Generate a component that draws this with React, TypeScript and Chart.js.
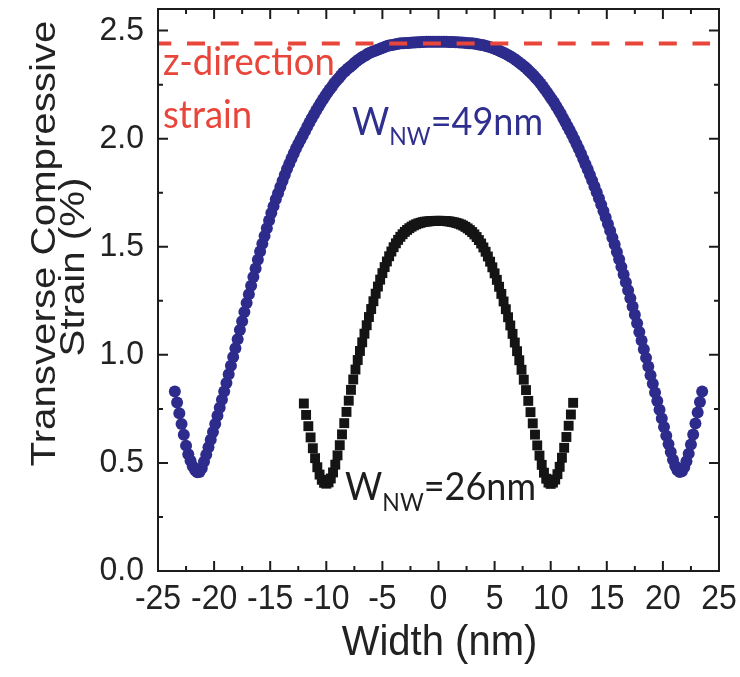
import { useEffect, useRef } from "react";
import { Chart, registerables } from "chart.js";

Chart.register(...registerables);

// Axis ranges and ticks
const X_MIN = -25;
const X_MAX = 25;
const Y_MIN = 0;
const Y_MAX = 2.6;
const X_TICKS = [-25, -20, -15, -10, -5, 0, 5, 10, 15, 20, 25];
const X_MINOR = [-22.5, -17.5, -12.5, -7.5, -2.5, 2.5, 7.5, 12.5, 17.5, 22.5];
const Y_TICKS = [0, 0.5, 1, 1.5, 2, 2.5];
const Y_TICK_LABELS = ["0.0", "0.5", "1.0", "1.5", "2.0", "2.5"];
const Y_MINOR = [0.25, 0.75, 1.25, 1.75, 2.25];

// Sampling grid across the wire width (nm)
const STEP = 0.2;

// W_NW = 49 nm: transverse strain (%), x from -23.5 nm to 23.5 nm
const W49_START = -23.5;
const W49_STRAIN = [
  0.83, 0.78, 0.73, 0.68, 0.63, 0.58, 0.54, 0.51, 0.485, 0.467,
  0.457, 0.458, 0.475, 0.505, 0.538, 0.572, 0.607, 0.643, 0.68, 0.718,
  0.755, 0.792, 0.83, 0.87, 0.91, 0.95, 0.99, 1.03, 1.072, 1.115,
  1.155, 1.198, 1.24, 1.28, 1.32, 1.36, 1.40, 1.44, 1.478, 1.514,
  1.55, 1.586, 1.622, 1.656, 1.688, 1.72, 1.748, 1.776, 1.804, 1.832,
  1.86, 1.884, 1.908, 1.932, 1.955, 1.975, 1.995, 2.015, 2.035, 2.055,
  2.075, 2.095, 2.112, 2.13, 2.148, 2.165, 2.181, 2.197, 2.213, 2.228,
  2.24, 2.256, 2.268, 2.28, 2.292, 2.305, 2.313, 2.324, 2.332, 2.34,
  2.35, 2.358, 2.366, 2.373, 2.38, 2.385, 2.393, 2.398, 2.402, 2.406,
  2.41, 2.414, 2.418, 2.422, 2.426, 2.43, 2.432, 2.434, 2.436, 2.438,
  2.44, 2.441, 2.442, 2.443, 2.443, 2.444, 2.445, 2.445, 2.446, 2.446,
  2.447, 2.447, 2.448, 2.448, 2.448, 2.448, 2.448, 2.448,
  2.448, 2.448, 2.448, 2.448, 2.447, 2.447, 2.447, 2.446, 2.446, 2.445,
  2.445, 2.444, 2.443, 2.442, 2.441, 2.44, 2.439, 2.437, 2.435, 2.433,
  2.431, 2.428, 2.425, 2.422, 2.418, 2.414, 2.41, 2.405, 2.4, 2.395,
  2.39, 2.384, 2.378, 2.371, 2.364, 2.356, 2.348, 2.34, 2.332, 2.322,
  2.312, 2.302, 2.291, 2.28, 2.268, 2.255, 2.241, 2.227, 2.213, 2.198,
  2.183, 2.167, 2.15, 2.133, 2.115, 2.096, 2.077, 2.058, 2.038, 2.018,
  1.997, 1.975, 1.953, 1.93, 1.906, 1.882, 1.857, 1.832, 1.806, 1.779,
  1.752, 1.724, 1.695, 1.666, 1.636, 1.605, 1.574, 1.542, 1.51, 1.476,
  1.442, 1.407, 1.372, 1.336, 1.299, 1.262, 1.224, 1.185, 1.146, 1.106,
  1.066, 1.026, 0.986, 0.946, 0.906, 0.866, 0.826, 0.786, 0.746, 0.706,
  0.666, 0.626, 0.587, 0.55, 0.515, 0.486, 0.466, 0.458, 0.462, 0.48,
  0.508, 0.543, 0.585, 0.632, 0.682, 0.733, 0.782, 0.83,
];

// W_NW = 26 nm: transverse strain (%), x from -12 nm to 12 nm
const W26_START = -12;
const W26_STRAIN = [
  0.775, 0.722, 0.67, 0.618, 0.568, 0.522, 0.48, 0.446, 0.422, 0.408,
  0.404, 0.41, 0.428, 0.456, 0.492, 0.535, 0.582, 0.632, 0.684, 0.736,
  0.788, 0.838, 0.886, 0.932, 0.976, 1.018, 1.058, 1.098, 1.137, 1.175,
  1.212, 1.248, 1.283, 1.316, 1.348, 1.378, 1.406, 1.432, 1.456, 1.478,
  1.498, 1.516, 1.532, 1.546, 1.558, 1.569, 1.578, 1.586, 1.593, 1.599,
  1.604, 1.608, 1.611, 1.614, 1.616, 1.617, 1.618, 1.619, 1.619, 1.62,
  1.62,
  1.62, 1.619, 1.619, 1.618, 1.617, 1.615, 1.613, 1.61, 1.607, 1.603,
  1.598, 1.592, 1.585, 1.577, 1.568, 1.557, 1.545, 1.531, 1.515, 1.497,
  1.477, 1.455, 1.431, 1.405, 1.377, 1.347, 1.315, 1.282, 1.247, 1.211,
  1.174, 1.136, 1.097, 1.057, 1.017, 0.975, 0.931, 0.885, 0.837, 0.787,
  0.735, 0.683, 0.631, 0.581, 0.534, 0.491, 0.455, 0.427, 0.409, 0.403,
  0.409, 0.423, 0.448, 0.482, 0.524, 0.57, 0.62, 0.672, 0.724, 0.778,
];

// z-direction strain reference level (%)
const Z_STRAIN = 2.44;
const Z_LINE_FROM = -25;
const Z_LINE_TO = 24.2;

const BLUE = "#2D2C8C";
const BLACK = "#141414";
const RED = "#E8463A";
const AXIS = "#1c1c1c";
const TEXT_FONT = 'Lato, "Open Sans", sans-serif';
const AXIS_FONT = '"Liberation Sans", Arial, sans-serif';

const toPoints = (start: number, values: number[]) =>
  values.map((y, i) => ({ x: Math.round((start + i * STEP) * 100) / 100, y }));

function drawText(
  ctx: CanvasRenderingContext2D,
  text: string,
  x: number,
  y: number,
  font: string,
  color: string,
  align: CanvasTextAlign,
  baseline: CanvasTextBaseline,
  sy: number
) {
  ctx.save();
  ctx.translate(x, y);
  ctx.scale(1, sy);
  ctx.font = font;
  ctx.fillStyle = color;
  ctx.textAlign = align;
  ctx.textBaseline = baseline;
  ctx.fillText(text, 0, 0);
  ctx.restore();
}

function drawSubLabel(
  ctx: CanvasRenderingContext2D,
  x: number,
  y: number,
  head: string,
  sub: string,
  tail: string,
  size: number,
  subSize: number,
  drop: number,
  color: string
) {
  const sy = 1.1;
  ctx.save();
  ctx.font = `${size}px ${TEXT_FONT}`;
  const wHead = ctx.measureText(head).width;
  ctx.font = `${subSize}px ${TEXT_FONT}`;
  const wSub = ctx.measureText(sub).width;
  ctx.restore();
  drawText(ctx, head, x, y, `${size}px ${TEXT_FONT}`, color, "left", "alphabetic", sy);
  drawText(ctx, sub, x + wHead, y + drop, `${subSize}px ${TEXT_FONT}`, color, "left", "alphabetic", sy);
  drawText(ctx, tail, x + wHead + wSub, y, `${size}px ${TEXT_FONT}`, color, "left", "alphabetic", sy);
}

function drawVerticalTitle(ctx: CanvasRenderingContext2D, text: string, baselineX: number, centerY: number) {
  ctx.save();
  ctx.fillStyle = "#222";
  ctx.font = `35px ${AXIS_FONT}`;
  ctx.textAlign = "center";
  ctx.textBaseline = "alphabetic";
  ctx.translate(baselineX, centerY);
  ctx.rotate(-Math.PI / 2);
  ctx.scale(1.15, 1);
  ctx.fillText(text, 0, 0);
  ctx.restore();
}

const framePlugin = {
  id: "frameAndText",
  afterDatasetsDraw(chart: any) {
    const ctx: CanvasRenderingContext2D = chart.ctx;
    const { left, right, top, bottom } = chart.chartArea;
    const xs = chart.scales.x;
    const ys = chart.scales.y;
    const major = 10;
    const minor = 5;

    ctx.save();
    ctx.strokeStyle = AXIS;
    ctx.lineWidth = 2;
    ctx.strokeRect(left, top, right - left, bottom - top);

    ctx.beginPath();
    const xTick = (v: number, len: number) => {
      const px = xs.getPixelForValue(v);
      ctx.moveTo(px, bottom);
      ctx.lineTo(px, bottom - len);
      ctx.moveTo(px, top);
      ctx.lineTo(px, top + len);
    };
    const yTick = (v: number, len: number) => {
      const py = ys.getPixelForValue(v);
      ctx.moveTo(left, py);
      ctx.lineTo(left + len, py);
      ctx.moveTo(right, py);
      ctx.lineTo(right - len, py);
    };
    X_TICKS.forEach((v) => xTick(v, major));
    X_MINOR.forEach((v) => xTick(v, minor));
    Y_TICKS.forEach((v) => yTick(v, major));
    Y_MINOR.forEach((v) => yTick(v, minor));
    ctx.stroke();
    ctx.restore();

    // tick labels
    const tickFont = `32px ${AXIS_FONT}`;
    X_TICKS.forEach((v) => {
      drawText(ctx, String(v), xs.getPixelForValue(v), bottom + 28, tickFont, "#222", "center", "middle", 1.12);
    });
    Y_TICKS.forEach((v, i) => {
      drawText(ctx, Y_TICK_LABELS[i], left - 14, ys.getPixelForValue(v), tickFont, "#222", "right", "middle", 1.05);
    });

    // axis titles
    drawText(ctx, "Width (nm)", (left + right) / 2 + 1, bottom + 84, `40px ${AXIS_FONT}`, "#222", "center", "alphabetic", 1.08);
    drawVerticalTitle(ctx, "Transverse Compressive", 55, 243.5);
    drawVerticalTitle(ctx, "Strain (%)", 84, 267);

    // annotations
    const redFont = `36.5px ${TEXT_FONT}`;
    drawText(ctx, "z-direction", xs.getPixelForValue(-24.55), ys.getPixelForValue(2.296), redFont, RED, "left", "alphabetic", 1.08);
    drawText(ctx, "strain", xs.getPixelForValue(-24.55), ys.getPixelForValue(2.05), redFont, RED, "left", "alphabetic", 1.08);

    drawSubLabel(ctx, xs.getPixelForValue(-7.71), ys.getPixelForValue(2.017), "W", "NW", "=49nm", 36, 23, 10, "#2E2F8E");
    drawSubLabel(ctx, xs.getPixelForValue(-8.33), ys.getPixelForValue(0.328), "W", "NW", "=26nm", 36, 23, 11, "#1e1e1e");
  },
};

export default function App() {
  const canvasRef = useRef<HTMLCanvasElement>(null);

  useEffect(() => {
    const canvas = canvasRef.current;
    if (!canvas) return;
    const chart = new Chart(canvas, {
      type: "scatter",
      data: {
        datasets: [
          {
            label: "z-direction strain",
            data: [
              { x: Z_LINE_FROM, y: Z_STRAIN },
              { x: Z_LINE_TO, y: Z_STRAIN },
            ],
            showLine: true,
            borderColor: RED,
            borderWidth: 4,
            borderDash: [18, 15.7],
            borderDashOffset: 4.7,
            pointRadius: 0,
            order: 0,
          },
          {
            label: "W_NW=26nm",
            data: toPoints(W26_START, W26_STRAIN),
            pointStyle: "rect",
            pointRadius: 7,
            pointBorderWidth: 0,
            backgroundColor: BLACK,
            borderColor: BLACK,
            order: 1,
          },
          {
            label: "W_NW=49nm",
            data: toPoints(W49_START, W49_STRAIN),
            pointStyle: "circle",
            pointRadius: 6,
            pointBorderWidth: 0,
            backgroundColor: BLUE,
            borderColor: BLUE,
            order: 2,
          },
        ],
      },
      options: {
        responsive: false,
        devicePixelRatio: 1,
        animation: false,
        events: [],
        layout: { padding: { left: 158, top: 9, right: 21, bottom: 106 } },
        scales: {
          x: { type: "linear", min: X_MIN, max: X_MAX, display: false },
          y: { type: "linear", min: Y_MIN, max: Y_MAX, display: false },
        },
        plugins: {
          legend: { display: false },
          tooltip: { enabled: false },
        },
      },
      plugins: [framePlugin],
    });
    return () => chart.destroy();
  }, []);

  return (
    <div style={{ position: "fixed", left: 0, top: 0, width: 740, height: 677, background: "#fff" }}>
      <canvas ref={canvasRef} width={740} height={677} style={{ display: "block", width: 740, height: 677 }} />
    </div>
  );
}
